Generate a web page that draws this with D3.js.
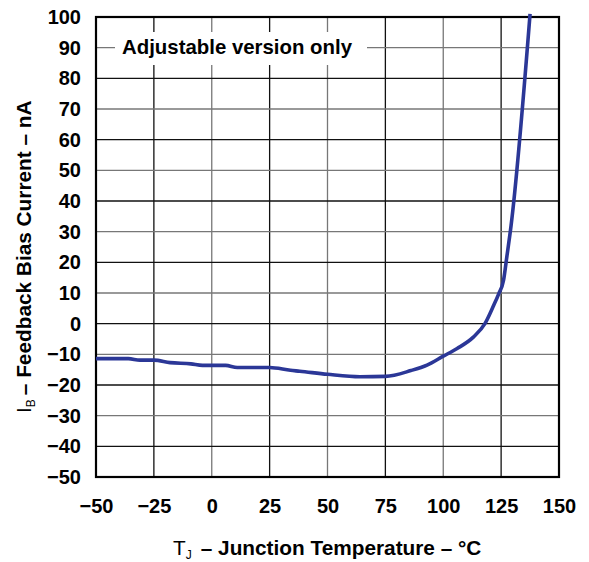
<!DOCTYPE html>
<html><head><meta charset="utf-8">
<script src="https://cdn.jsdelivr.net/npm/d3@7"></script>
<style>body{margin:0;background:#fff}svg{display:block}text{font-family:"Liberation Sans",Arial,sans-serif}</style>
</head><body>
<script>
const tempC = [-50,-36,-31,-25,-18,-9,-4,6,11,25,34,38,50,64,75,86,93,100,106,113,118,121.5,124,126,127.5,129.3,137.5];
const biasNA = [-11.4,-11.4,-11.9,-11.9,-12.7,-13.1,-13.6,-13.6,-14.3,-14.3,-15.2,-15.5,-16.5,-17.3,-17.2,-15.3,-13.5,-10.6,-8.1,-4.4,0,5.5,9.8,14,22,32,101];
const xTicks = [-50,-25,0,25,50,75,100,125,150];
const yTicks = [-50,-40,-30,-20,-10,0,10,20,30,40,50,60,70,80,90,100];
const note = "Adjustable version only";

const W=589,H=562, L=96, R=559, T=17, B=477;
const FONT="'Liberation Sans',Arial,sans-serif";
const svg=d3.select("body").append("svg").attr("width",W).attr("height",H);
const x=d3.scaleLinear().domain([-50,150]).range([L,R]);
const y=d3.scaleLinear().domain([-50,100]).range([B,T]);

// grid
const g=svg.append("g");
g.selectAll(".vx").data(xTicks.slice(1,-1)).enter().append("line")
 .attr("x1",d=>x(d)).attr("x2",d=>x(d)).attr("y1",T).attr("y2",B)
 .attr("stroke",(d,i)=>i%2?"#777":"#111").attr("stroke-width",1.3);
g.selectAll(".hy").data(yTicks.slice(1,-1)).enter().append("line")
 .attr("y1",d=>y(d)).attr("y2",d=>y(d)).attr("x1",L).attr("x2",R)
 .attr("stroke",(d,i)=>i%2?"#777":"#111").attr("stroke-width",1.3);

// annotation box
svg.append("rect").attr("x",115).attr("y",32).attr("width",252).attr("height",33).attr("fill","#fff");
svg.append("text").attr("x",122).attr("y",54).attr("font-size",20.4).attr("font-weight","bold").text(note);

// frame
svg.append("rect").attr("x",L).attr("y",T).attr("width",R-L).attr("height",B-T)
 .attr("fill","none").attr("stroke","#000").attr("stroke-width",2.2);

// axes tick labels via d3 axes
const ax=svg.append("g").attr("transform",`translate(0,${B})`)
 .call(d3.axisBottom(x).tickValues(xTicks).tickSize(0).tickPadding(22).tickFormat(d3.format("d")));
const ay=svg.append("g").attr("transform",`translate(${L},0)`)
 .call(d3.axisLeft(y).tickValues(yTicks).tickSize(0).tickPadding(15).tickFormat(d3.format("d")));
[ax,ay].forEach(a=>{a.select(".domain").remove();a.selectAll("text").attr("font-size",20).attr("font-weight","bold").attr("fill","#000").style("font-family",FONT);});

// curve
svg.append("path").datum(tempC.map((t,i)=>[t,biasNA[i]]))
 .attr("d",d3.line().x(d=>x(d[0])).y(d=>y(d[1])).curve(d3.curveMonotoneX))
 .attr("fill","none").attr("stroke","#2b3797").attr("stroke-width",3.6).attr("stroke-linejoin","round");

// axis titles
const xt=svg.append("text").attr("x",173).attr("y",555).attr("font-size",20.8).attr("font-weight","bold");
xt.append("tspan").attr("font-weight","normal").text("T");
xt.append("tspan").attr("font-weight","normal").attr("font-size",12).attr("dy",4).text("J");
xt.append("tspan").attr("dy",-4).attr("dx",9).text("– Junction Temperature – °C");

const yt=svg.append("text").attr("transform","translate(31,413) rotate(-90)").attr("font-size",20.8).attr("font-weight","bold");
yt.append("tspan").attr("font-weight","normal").text("I");
yt.append("tspan").attr("font-weight","normal").attr("font-size",12).attr("dy",4).text("B");
yt.append("tspan").attr("dy",-4).attr("dx",4).text("– Feedback Bias Current – nA");
</script>
</body></html>
